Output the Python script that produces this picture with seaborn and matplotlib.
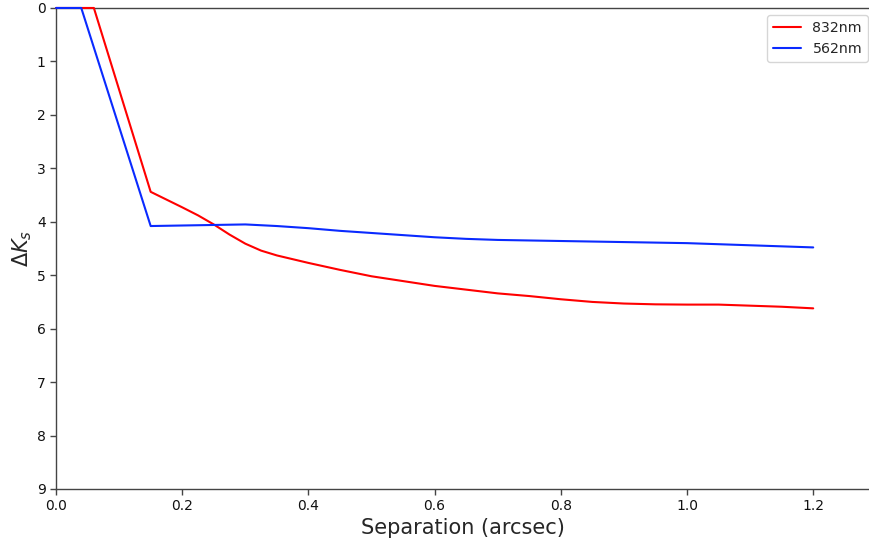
import numpy as np
import pandas as pd
import matplotlib
matplotlib.use("Agg")
import matplotlib.pyplot as plt
import seaborn as sns

# Contrast curves: separation (arcsec) vs. delta magnitude
sep_832 = [0.0, 0.06, 0.15, 0.20, 0.225, 0.25, 0.275, 0.30, 0.325, 0.35, 0.375, 0.40,
           0.45, 0.50, 0.55, 0.60, 0.65, 0.70, 0.75, 0.80, 0.85, 0.90, 0.95, 1.00,
           1.05, 1.10, 1.15, 1.20]
dk_832 = [0.0, 0.0, 3.44, 3.73, 3.88, 4.05, 4.24, 4.41, 4.54, 4.63, 4.70, 4.77,
          4.90, 5.02, 5.11, 5.20, 5.27, 5.34, 5.39, 5.45, 5.50, 5.53, 5.545, 5.55,
          5.55, 5.57, 5.59, 5.62]

sep_562 = [0.0, 0.04, 0.15, 0.20, 0.25, 0.30, 0.35, 0.40, 0.45, 0.50, 0.55, 0.60,
           0.65, 0.70, 0.75, 0.80, 0.85, 0.90, 0.95, 1.00, 1.05, 1.10, 1.15, 1.20]
dk_562 = [0.0, 0.0, 4.08, 4.07, 4.06, 4.05, 4.08, 4.12, 4.17, 4.21, 4.25, 4.29,
          4.32, 4.34, 4.35, 4.36, 4.37, 4.38, 4.39, 4.40, 4.42, 4.44, 4.46, 4.48]

labels = ["832nm", "562nm"]

df = pd.concat([
    pd.DataFrame({"sep": sep_832, "dk": dk_832, "band": labels[0]}),
    pd.DataFrame({"sep": sep_562, "dk": dk_562, "band": labels[1]}),
], ignore_index=True)

sns.set_style("white")
plt.rcParams["font.family"] = ["DejaVu Sans"]

fig = plt.figure(figsize=(8.7, 5.46), dpi=100)
ax = fig.add_axes([0.0644, 0.1044, 0.9356, 0.881])

sns.lineplot(data=df, x="sep", y="dk", hue="band", hue_order=labels,
             palette={"832nm": "#ff0000", "562nm": "#0a2aff"},
             estimator=None, sort=False, linewidth=1.5, ax=ax)
for line in ax.get_lines():
    line.set_clip_on(False)
    line.set_zorder(3)

ax.set_xlim(0, 1.29)
ax.set_ylim(9, 0)
ax.set_xticks([0.0, 0.2, 0.4, 0.6, 0.8, 1.0, 1.2])
ax.set_yticks(range(0, 10))
ax.tick_params(axis="both", direction="out", length=4, width=1, labelsize=10,
               color="#444444", labelcolor="#111111")
ax.tick_params(left=True, bottom=True)

for side in ["left", "bottom", "top"]:
    ax.spines[side].set_color("#444444")
    ax.spines[side].set_linewidth(1.0)
ax.spines["right"].set_visible(False)

ax.set_xlabel("Separation (arcsec)", fontsize=15, labelpad=3)
ax.set_ylabel(r"$\Delta K_s$", fontsize=15, labelpad=2)

leg = ax.legend(loc="upper right", fontsize=10.2, frameon=True, title=None,
                bbox_to_anchor=(0.999, 0.988), borderaxespad=0.1)
leg.get_frame().set_edgecolor("#cccccc")

fig.savefig("out.png", dpi=100)
